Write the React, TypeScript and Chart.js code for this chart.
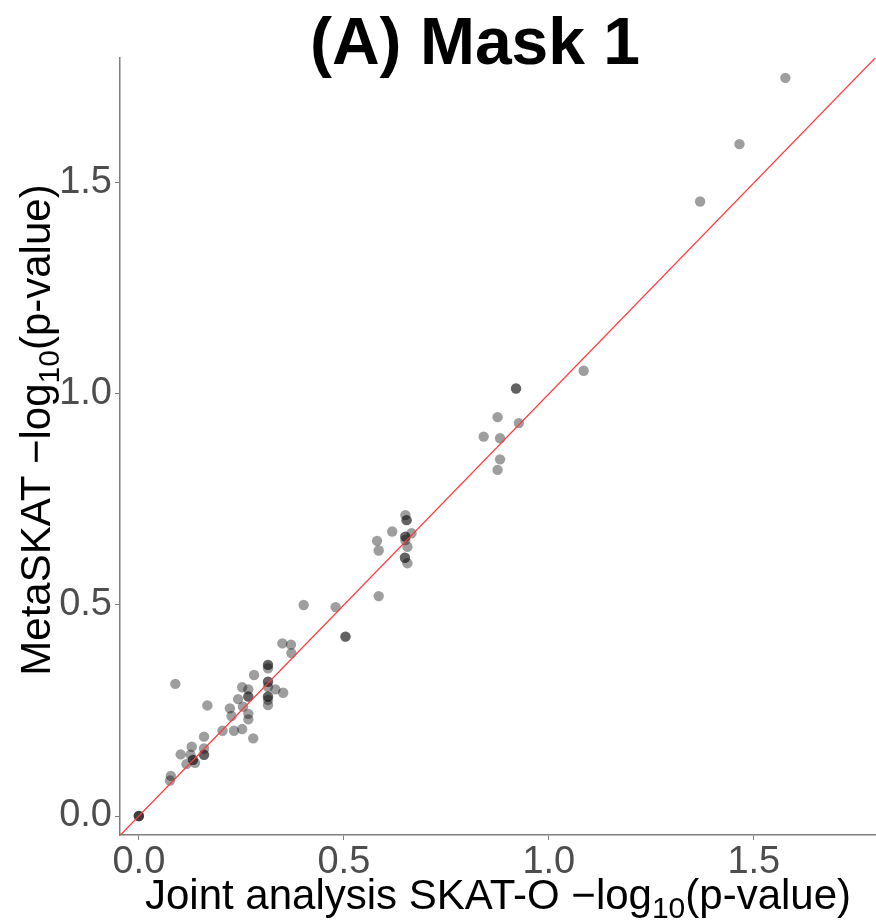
import React, { useEffect, useRef } from "react";
import { Chart, registerables } from "chart.js";
Chart.register(...registerables);

// Joint analysis SKAT-O -log10(p) (x) vs MetaSKAT -log10(p) (y)
const jointX = [
  0, 0, 0, 0.076, 0.078, 0.089, 0.102, 0.116, 0.126, 0.129, 0.132, 0.132, 0.137,
  0.159, 0.159, 0.159, 0.159, 0.167, 0.204, 0.222, 0.226, 0.232, 0.242, 0.252,
  0.254, 0.252, 0.267, 0.267, 0.267, 0.267, 0.267, 0.279, 0.281, 0.315, 0.315,
  0.315, 0.315, 0.315, 0.315, 0.315, 0.315, 0.315, 0.315, 0.333, 0.352, 0.35,
  0.371, 0.372, 0.402, 0.48, 0.504, 0.504, 0.585, 0.581, 0.585, 0.618, 0.65,
  0.653, 0.653, 0.65, 0.65, 0.65, 0.665, 0.655, 0.649, 0.649, 0.655, 0.841,
  0.875, 0.881, 0.881, 0.875, 0.92, 0.92, 0.927, 1.085, 1.369, 1.465, 1.577,
];
const metaY = [
  0, 0, 0, 0.084, 0.095, 0.313, 0.146, 0.123, 0.145, 0.164, 0.133, 0.133, 0.126,
  0.188, 0.16, 0.145, 0.145, 0.262, 0.202, 0.255, 0.237, 0.202, 0.277, 0.305,
  0.259, 0.206, 0.3, 0.283, 0.283, 0.242, 0.229, 0.184, 0.334, 0.358, 0.358,
  0.35, 0.318, 0.318, 0.306, 0.283, 0.283, 0.275, 0.263, 0.3, 0.292, 0.409,
  0.406, 0.386, 0.5, 0.495, 0.425, 0.425, 0.521, 0.652, 0.629, 0.674, 0.713,
  0.701, 0.701, 0.662, 0.662, 0.654, 0.67, 0.638, 0.612, 0.612, 0.599, 0.899,
  0.945, 0.895, 0.845, 0.82, 1.013, 1.013, 0.931, 1.055, 1.456, 1.592, 1.749,
];
const tickValues = [0, 0.5, 1, 1.5];
const xRange = [-0.046, 1.798];
const yRange = [-0.045, 1.796];
const refLine = [-0.1, 1.9]; // y = x identity line
const titleText = "(A) Mask 1";
const xTitleParts = [
  { t: "Joint analysis SKAT-O \u2212log", sub: false },
  { t: "10", sub: true },
  { t: "(p-value)", sub: false },
];
const yTitleParts = [
  { t: "MetaSKAT \u2212log", sub: false },
  { t: "10", sub: true },
  { t: "(p-value)", sub: false },
];

const FONT = '"Liberation Sans", Arial, Helvetica, sans-serif';

function drawParts(ctx: CanvasRenderingContext2D, parts: { t: string; sub: boolean }[], cx: number, baseline: number) {
  const main = `42px ${FONT}`;
  const small = `30px ${FONT}`;
  let total = 0;
  for (const p of parts) {
    ctx.font = p.sub ? small : main;
    total += ctx.measureText(p.t).width;
  }
  let x = cx - total / 2;
  ctx.textAlign = "left";
  ctx.textBaseline = "alphabetic";
  for (const p of parts) {
    ctx.font = p.sub ? small : main;
    ctx.fillText(p.t, x, baseline + (p.sub ? 9 : 0));
    x += ctx.measureText(p.t).width;
  }
}

const textPlugin = {
  id: "customText",
  afterDraw(chart: any) {
    const ctx = chart.ctx as CanvasRenderingContext2D;
    ctx.save();
    ctx.fillStyle = "#000";
    ctx.font = `bold 66px ${FONT}`;
    ctx.textAlign = "center";
    ctx.textBaseline = "alphabetic";
    ctx.fillText(titleText, 475, 64);
    drawParts(ctx, xTitleParts, 498, 909);
    ctx.translate(50, 430);
    ctx.rotate(-Math.PI / 2);
    drawParts(ctx, yTitleParts, 0, 0);
    ctx.restore();
  },
};

export default function App() {
  const ref = useRef<HTMLCanvasElement | null>(null);
  useEffect(() => {
    if (!ref.current) return;
    const axisColor = "#7f7f7f";
    const tickFont = { family: FONT, size: 38 };
    const chart = new Chart(ref.current, {
      type: "scatter",
      data: {
        datasets: [
          {
            type: "scatter",
            data: jointX.map((x, i) => ({ x, y: metaY[i] })),
            backgroundColor: "rgba(0,0,0,0.38)",
            borderWidth: 0,
            pointRadius: 5.2,
            pointHoverRadius: 5.2,
            order: 1,
          } as any,
          {
            type: "line",
            data: refLine.map((v) => ({ x: v, y: v })),
            borderColor: "#ff3a3a",
            borderWidth: 1.3,
            pointRadius: 0,
            fill: false,
            order: 0,
          } as any,
        ],
      },
      options: {
        animation: false,
        responsive: false,
        devicePixelRatio: 1,
        layout: { padding: { top: 58, right: 0, left: 0, bottom: 0 }, autoPadding: false } as any,
        plugins: { legend: { display: false }, tooltip: { enabled: false } },
        scales: {
          x: {
            type: "linear",
            min: xRange[0],
            max: xRange[1],
            afterBuildTicks: (s: any) => {
              s.ticks = tickValues.map((v) => ({ value: v }));
            },
            afterFit: (s: any) => {
              s.height = 87;
            },
            ticks: {
              color: "#4d4d4d",
              font: tickFont,
              padding: 0,
              maxRotation: 0,
              autoSkip: false,
              callback: (v: any) => Number(v).toFixed(1),
            },
            grid: { drawOnChartArea: false, drawTicks: true, tickLength: 5, color: axisColor, lineWidth: 1 },
            border: { display: true, color: axisColor, width: 1.5 },
          },
          y: {
            type: "linear",
            min: yRange[0],
            max: yRange[1],
            afterBuildTicks: (s: any) => {
              s.ticks = tickValues.map((v) => ({ value: v }));
            },
            afterFit: (s: any) => {
              s.width = 120;
            },
            ticks: {
              color: "#4d4d4d",
              font: tickFont,
              padding: 3,
              autoSkip: false,
              callback: (v: any) => Number(v).toFixed(1),
            },
            grid: { drawOnChartArea: false, drawTicks: true, tickLength: 5, color: axisColor, lineWidth: 1 },
            border: { display: true, color: axisColor, width: 1.5 },
          },
        },
      } as any,
      plugins: [textPlugin],
    });
    return () => chart.destroy();
  }, []);
  return (
    <div style={{ position: "fixed", left: 0, top: 0, width: 876, height: 922, background: "#fff" }}>
      <canvas ref={ref} width={876} height={922} style={{ width: 876, height: 922, display: "block" }} />
    </div>
  );
}
